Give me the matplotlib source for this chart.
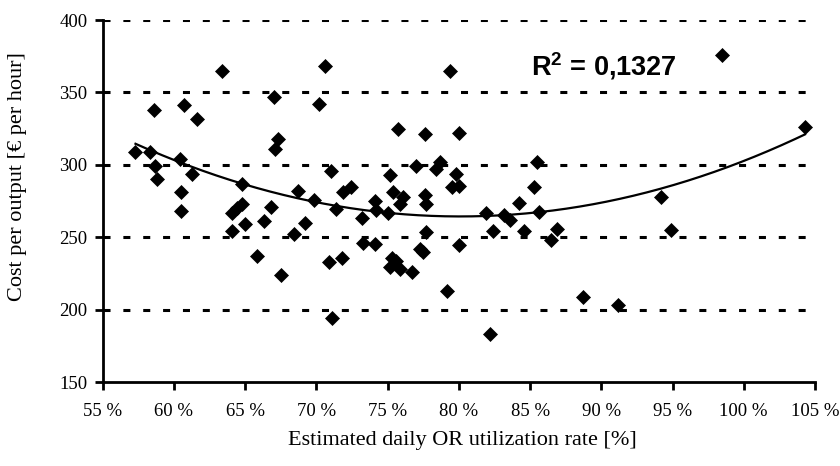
import numpy as np
import matplotlib
matplotlib.use("Agg")
import matplotlib.pyplot as plt

plt.rcParams['mathtext.fontset'] = 'custom'
plt.rcParams['mathtext.bf'] = 'Liberation Sans:bold'
plt.rcParams['mathtext.rm'] = 'Liberation Sans:bold'

# utilization rate [%]
util = [63.35, 58.6, 60.7, 61.6, 57.3, 58.3, 58.7, 58.8, 60.4, 61.3,
        60.5, 60.5, 64.8, 64.05, 64.75, 64.4, 65.0, 64.1, 66.3, 66.8,
        67.0, 67.3, 67.1, 65.8, 70.6, 70.2, 75.7, 77.6, 71.0, 77.0,
        78.4, 75.2, 68.7, 69.8, 71.9, 72.4, 71.4, 74.1, 75.4, 76.1,
        75.9, 77.6, 77.7, 74.2, 75.0, 73.2, 69.2, 68.4, 77.7, 73.3,
        74.1, 77.3, 77.5, 67.5, 70.9, 71.8, 75.3, 75.6, 75.2, 75.9,
        76.7, 71.1, 79.4, 80.0, 78.7, 79.8, 79.5, 80.0, 85.5, 85.3,
        84.2, 85.6, 81.9, 83.2, 83.6, 82.4, 84.6, 86.9, 86.5, 80.0,
        79.2, 82.2, 88.7, 91.2, 98.5, 104.3, 94.2, 94.9]
# cost per output [EUR per hour]
cost = [365, 338, 341, 332, 309, 309, 299, 290, 304, 294,
        281, 268, 287, 267, 273, 270, 259, 254, 261, 271,
        347, 318, 311, 237, 368, 342, 324.5, 321, 295.6, 299,
        297.3, 293, 282, 276, 281, 285, 269.6, 275.3, 281, 277.6,
        273, 279, 273, 269, 267, 263, 260, 252, 253.4, 246,
        245.5, 242, 240, 224, 233, 235.4, 236, 233.8, 229.6, 228,
        225.7, 194.5, 365, 322, 302, 294, 284.6, 285.7, 302, 284.6,
        273.7, 267.7, 266.8, 265.6, 262, 254.6, 254.6, 255.8, 248, 244.7,
        212.6, 183.4, 208.5, 203, 376, 326, 277.6, 255]

x_ticks = [55, 60, 65, 70, 75, 80, 85, 90, 95, 100, 105]
x_tick_labels = [f"{v} %" for v in x_ticks]
y_ticks = [150, 200, 250, 300, 350, 400]
r2_label = r"$\mathbf{R^2}$ = 0,1327"

x = np.array(util)
y = np.array(cost)
coef = np.polyfit(x, y, 2)
xf = np.linspace(x.min(), x.max(), 200)
yf = np.polyval(coef, xf)

fig = plt.figure(figsize=(8.4, 4.66), dpi=100)
ax = fig.add_axes([0.1223, 0.180, 0.8479, 0.777])

serif = 'Liberation Serif'
for yv in y_ticks[1:]:
    ax.axhline(yv, color='black', lw=2.2, linestyle=(0, (2.3, 4.2)), zorder=1)

ax.plot(xf, yf, color='black', lw=1.6, zorder=2)
ax.plot(x, y, linestyle='none', marker='D', ms=7.4, mfc='black', mec='black',
        mew=0.5, zorder=3)

ax.set_xlim(55, 105)
ax.set_ylim(150, 400)
ax.set_xticks(x_ticks)
ax.set_xticklabels(x_tick_labels, fontfamily=serif, fontsize=13.5)
ax.set_yticks(y_ticks)
ax.set_yticklabels([str(v) for v in y_ticks], fontfamily=serif, fontsize=13.5)
ax.tick_params(axis='both', direction='out', length=6, width=2, color='black')
ax.tick_params(axis='x', pad=9)
ax.tick_params(axis='y', pad=5)

for s in ['top', 'right']:
    ax.spines[s].set_visible(False)
for s in ['left', 'bottom']:
    ax.spines[s].set_linewidth(2)

ax.set_xlabel("Estimated daily OR utilization rate [%]", fontfamily=serif, fontsize=16)
ax.set_ylabel("Cost per output [€ per hour]", fontfamily=serif, fontsize=16)
ax.xaxis.label.set_va('center')
ax.yaxis.label.set_va('center')
ax.xaxis.set_label_coords(0.505, -0.16)
ax.yaxis.set_label_coords(-0.119, 0.569)

ax.text(85.1, 362.0, r2_label, fontfamily='Liberation Sans', fontweight='bold',
        fontsize=19.5, ha='left', va='baseline')

fig.savefig("out.png", dpi=100)
